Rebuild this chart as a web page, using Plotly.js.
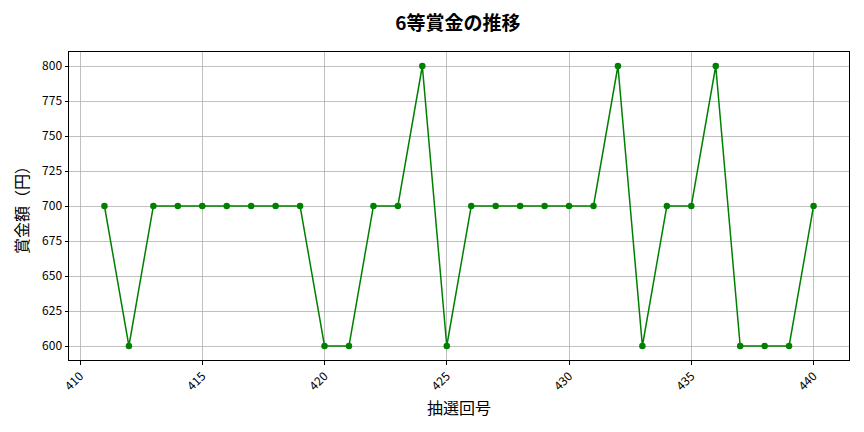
<!DOCTYPE html>
<html>
<head>
<meta charset="utf-8">
<script src="https://cdn.plot.ly/plotly-3.0.1.min.js"></script>
<style>
  html, body { margin: 0; padding: 0; background: #fff; }
  #chart { width: 864px; height: 432px; }
</style>
</head>
<body>
<div id="chart"></div>
<script>
// 抽選回号 and 6等賞金 (円)
const drawNumbers = [
  411, 412, 413, 414, 415, 416, 417, 418, 419, 420,
  421, 422, 423, 424, 425, 426, 427, 428, 429, 430,
  431, 432, 433, 434, 435, 436, 437, 438, 439, 440,
];
const prizeYen = [
  700, 600, 700, 700, 700, 700, 700, 700, 700, 600,
  600, 700, 700, 800, 600, 700, 700, 700, 700, 700,
  700, 800, 600, 700, 700, 800, 600, 600, 600, 700,
];
const xTicks = [410, 415, 420, 425, 430, 435, 440];
const yTicks = [600, 625, 650, 675, 700, 725, 750, 775, 800];

const font = "'Noto Sans CJK JP', 'DejaVu Sans', sans-serif";

const trace = {
  x: drawNumbers,
  y: prizeYen,
  type: "scatter",
  mode: "lines+markers",
  line: { color: "green", width: 1.5 },
  marker: { color: "green", size: 6.5 },
  hoverinfo: "x+y",
};

const axisBase = {
  showgrid: true,
  gridcolor: "#b0b0b0",
  gridwidth: 0.8,
  zeroline: false,
  showline: true,
  linecolor: "#000",
  linewidth: 1,
  mirror: true,
  ticks: "outside",
  ticklen: 3.5,
  tickcolor: "#000",
  tickfont: { family: font, size: 12, color: "#000" },
};

const layout = {
  width: 864,
  height: 432,
  paper_bgcolor: "#fff",
  plot_bgcolor: "#fff",
  showlegend: false,
  font: { family: font, color: "#000" },
  title: {
    text: "<b>6等賞金の推移</b>",
    font: { family: font, size: 19, color: "#000" },
    x: 0.530,
    xanchor: "center",
    y: 0.945,
    yanchor: "middle",
  },
  margin: { l: 69, r: 15, t: 52, b: 72 },
  xaxis: Object.assign({}, axisBase, {
    range: [409.55, 441.45],
    tickvals: xTicks,
    tickangle: -45,
    title: { text: "抽選回号", font: { family: font, size: 16, color: "#000" }, standoff: 10 },
  }),
  yaxis: Object.assign({}, axisBase, {
    range: [590, 810],
    tickvals: yTicks,
    title: { text: "賞金額（円）", font: { family: font, size: 16, color: "#000" }, standoff: 9 },
  }),
};

Plotly.newPlot("chart", [trace], layout, { displayModeBar: false, staticPlot: true });
</script>
</body>
</html>
